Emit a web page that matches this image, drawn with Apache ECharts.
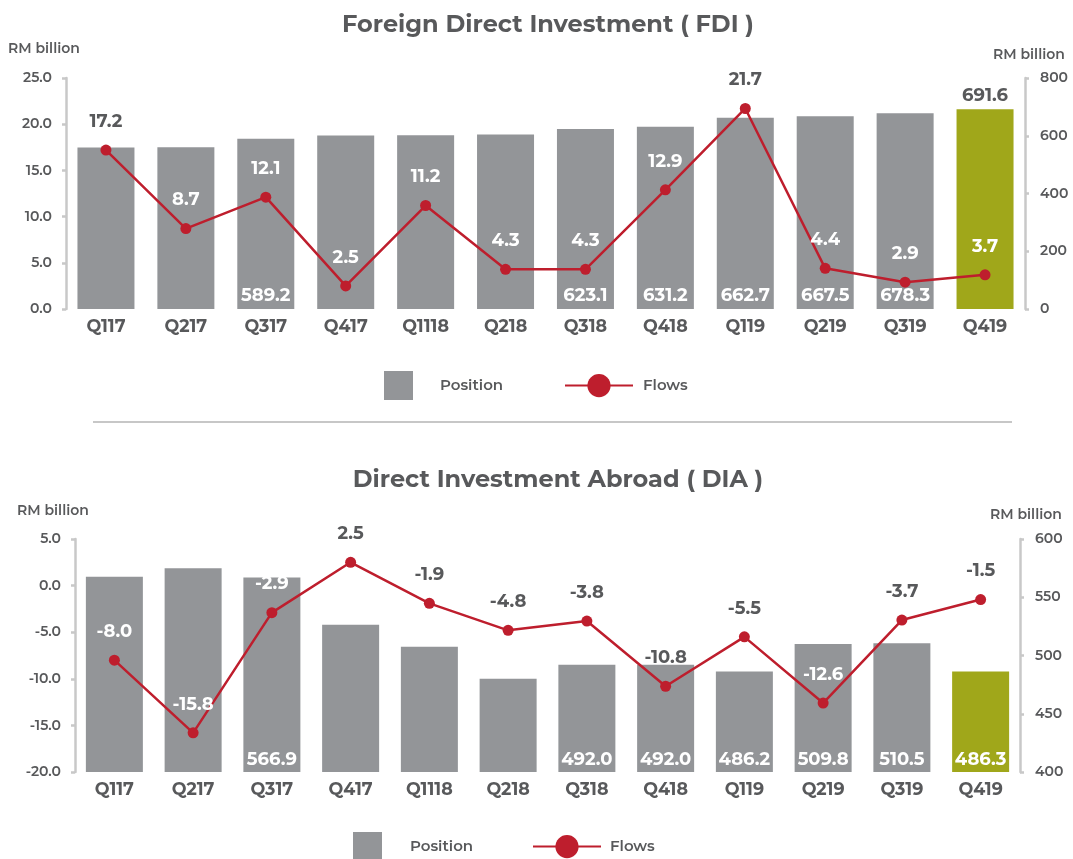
<!DOCTYPE html>
<html>
<head>
<meta charset="utf-8">
<script src="https://cdn.jsdelivr.net/npm/echarts@6/dist/echarts.min.js"></script>
<style>
  html, body { margin: 0; padding: 0; background: #fff; }
  #chart { width: 1073px; height: 859px; }
</style>
</head>
<body>
<div id="chart"></div>
<script>
// FDI / DIA quarterly position (bars, right axis) and flows (line, left axis)
var quarters = ['Q117', 'Q217', 'Q317', 'Q417', 'Q1118', 'Q218', 'Q318', 'Q418', 'Q119', 'Q219', 'Q319', 'Q419'];

var fdiPosition = [559.5, 560, 589.2, 601, 601.5, 604, 623.1, 631.2, 662.7, 667.5, 678.3, 691.6];
var fdiFlows = [17.2, 8.7, 12.1, 2.5, 11.2, 4.3, 4.3, 12.9, 21.7, 4.4, 2.9, 3.7];

var diaPosition = [567.5, 575, 566.9, 526.5, 507.5, 480, 492.0, 492.0, 486.2, 509.8, 510.5, 486.3];
var diaFlows = [-8.0, -15.8, -2.9, 2.5, -1.9, -4.8, -3.8, -10.8, -5.5, -12.6, -3.7, -1.5];

// axis ranges: [min, max, interval]
var fdiFlowAxis = [0, 25, 5];
var fdiPosAxis = [0, 800, 200];
var diaFlowAxis = [-20, 5, 5];
var diaPosAxis = [400, 600, 50];

// which bars carry a value label, and which flow labels sit on a bar (white)
var fdiPosLabelled = [2, 6, 7, 8, 9, 10, 11];
var diaPosLabelled = [2, 6, 7, 8, 9, 10, 11];
var fdiFlowOnBar = [0, 1, 1, 1, 1, 1, 1, 1, 0, 1, 1, 1];
var diaFlowOnBar = [1, 1, 1, 0, 0, 0, 0, 0, 0, 1, 0, 0];

var ink = '#58595b';
var barGrey = '#939598';
var red = '#be1e2d';
var olive = '#a0a71a';
var axisGrey = '#c8c8c8';
var font = 'Montserrat, "Open Sans", sans-serif';

function barData(values, labelled) {
  var last = values.length - 1;
  return values.map(function(v, i) {
    var item = { value: v };
    if (i === last) item.itemStyle = { color: olive };
    if (labelled.indexOf(i) < 0) {
      item.label = { show: false };
    } else if (i === last && values === fdiPosition) {
      item.label = { show: true, position: 'top', distance: 5, color: ink };
    }
    return item;
  });
}

function lineData(values, onBar) {
  return values.map(function(v, i) {
    return { value: v, label: { color: onBar[i] ? '#ffffff' : ink } };
  });
}

function leftAxis(grid, range) {
  return {
    type: 'value', gridIndex: grid, position: 'left',
    min: range[0], max: range[1], interval: range[2],
    splitLine: { show: false },
    axisLine: { show: true, lineStyle: { color: axisGrey, width: 2.5 } },
    axisTick: { show: true, length: 4, lineStyle: { color: axisGrey, width: 2.5 } },
    axisLabel: { color: ink, fontSize: 14, fontWeight: 600, margin: 14,
      formatter: function(v) { return v.toFixed(1); } }
  };
}

function rightAxis(grid, range) {
  return {
    type: 'value', gridIndex: grid, position: 'right',
    min: range[0], max: range[1], interval: range[2],
    splitLine: { show: false },
    axisLine: { show: true, lineStyle: { color: axisGrey, width: 2.5 } },
    axisTick: { show: true, length: 4, lineStyle: { color: axisGrey, width: 2.5 } },
    axisLabel: { color: ink, fontSize: 14, fontWeight: 600, margin: 15 }
  };
}

function catAxis(grid) {
  return {
    type: 'category', gridIndex: grid, data: quarters,
    axisLine: { show: false }, axisTick: { show: false },
    axisLabel: { color: ink, fontSize: 17.5, fontWeight: 'bold', margin: 9 }
  };
}

function rmText(x, y) {
  return { type: 'text', left: x, top: y,
    style: { text: 'RM billion', fill: ink, font: '600 14px ' + font } };
}

function legendItem(name, x, y, wide, gap) {
  var l = { data: [name], left: x, top: y, padding: 0, itemWidth: wide ? 68 : 29, itemHeight: 29,
    selectedMode: false,
    textStyle: { color: ink, fontSize: 15, fontWeight: 600, padding: [0, 0, 0, gap] } };
  if (!wide) l.icon = 'rect';
  return l;
}

var chart = echarts.init(document.getElementById('chart'), null, { renderer: 'canvas' });
chart.setOption({
  animation: false,
  textStyle: { fontFamily: font },
  title: [
    { text: 'Foreign Direct Investment ( FDI )', left: 543, top: 8, textAlign: 'center',
      textStyle: { color: ink, fontSize: 24, fontWeight: 'bold', fontFamily: font } },
    { text: 'Direct Investment Abroad ( DIA )', left: 553, top: 463, textAlign: 'center',
      textStyle: { color: ink, fontSize: 24, fontWeight: 'bold', fontFamily: font } }
  ],
  legend: [
    legendItem('Position', 384, 371, false, 22),
    legendItem('Flows', 564, 374, true, 5),
    legendItem('Position', 353, 832, false, 23),
    legendItem('Flows', 532, 835, true, 4)
  ],
  graphic: [
    { type: 'line', shape: { x1: 93, y1: 422, x2: 1012, y2: 422 },
      style: { stroke: '#b4b4b4', lineWidth: 1.5 } },
    rmText(8, 42),
    rmText(993, 48),
    rmText(17, 504),
    rmText(990, 508)
  ],
  grid: [
    { left: 66, top: 78, width: 959, height: 231 },
    { left: 75, top: 539, width: 945, height: 233 }
  ],
  xAxis: [catAxis(0), catAxis(1)],
  yAxis: [
    leftAxis(0, fdiFlowAxis),
    rightAxis(0, fdiPosAxis),
    leftAxis(1, diaFlowAxis),
    rightAxis(1, diaPosAxis)
  ],
  series: [
    {
      name: 'Position', type: 'bar', xAxisIndex: 0, yAxisIndex: 1,
      barWidth: 57, itemStyle: { color: barGrey }, z: 2,
      label: { show: true, position: 'insideBottom', distance: 4, color: '#ffffff',
        fontSize: 18, fontWeight: 'bold', formatter: function(p) { return p.value.toFixed(1); } },
      data: barData(fdiPosition, fdiPosLabelled)
    },
    {
      name: 'Flows', type: 'line', xAxisIndex: 0, yAxisIndex: 0, z: 3,
      symbol: 'circle', symbolSize: 11,
      itemStyle: { color: red }, lineStyle: { color: red, width: 2.5 },
      label: { show: true, position: 'top', distance: 14, fontSize: 18, fontWeight: 'bold',
        formatter: function(p) { return p.value.toFixed(1); } },
      data: lineData(fdiFlows, fdiFlowOnBar)
    },
    {
      name: 'Position', type: 'bar', xAxisIndex: 1, yAxisIndex: 3,
      barWidth: 57, itemStyle: { color: barGrey }, z: 2,
      label: { show: true, position: 'insideBottom', distance: 3, color: '#ffffff',
        fontSize: 18, fontWeight: 'bold', formatter: function(p) { return p.value.toFixed(1); } },
      data: barData(diaPosition, diaPosLabelled)
    },
    {
      name: 'Flows', type: 'line', xAxisIndex: 1, yAxisIndex: 2, z: 3,
      symbol: 'circle', symbolSize: 11,
      itemStyle: { color: red }, lineStyle: { color: red, width: 2.5 },
      label: { show: true, position: 'top', distance: 14, fontSize: 18, fontWeight: 'bold',
        formatter: function(p) { return p.value.toFixed(1); } },
      data: lineData(diaFlows, diaFlowOnBar)
    }
  ]
});
</script>
</body>
</html>
